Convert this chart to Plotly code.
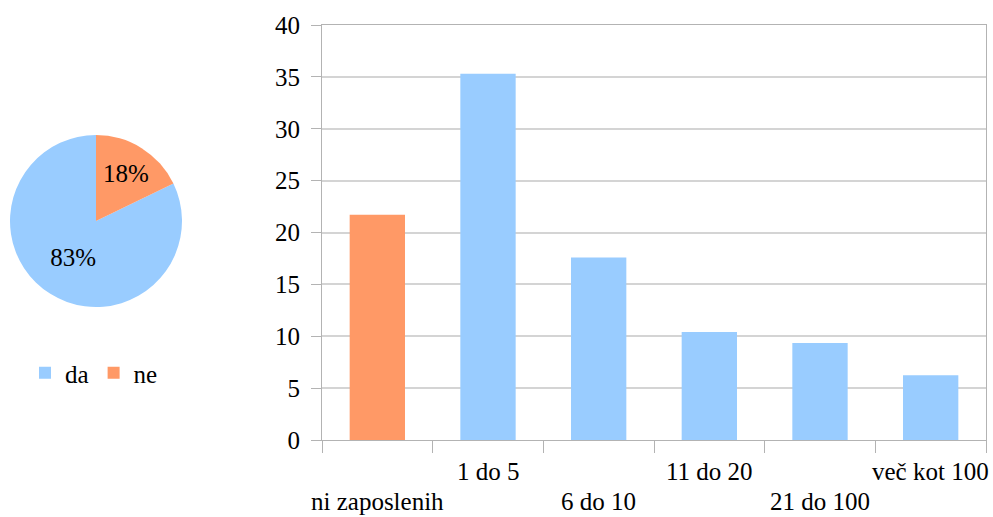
import plotly.graph_objects as go

# Pie: share of answers
pie_labels = ["da", "ne"]
pie_values = [83, 18]
pie_colors = ["#99CCFF", "#FF9966"]

# Bars: number of employees
categories = ["ni zaposlenih", "1 do 5", "6 do 10", "11 do 20", "21 do 100", "več kot 100"]
bar_values = [21.7, 35.3, 17.6, 10.4, 9.35, 6.24]
bar_colors = ["#FF9966", "#99CCFF", "#99CCFF", "#99CCFF", "#99CCFF", "#99CCFF"]
y_ticks = [0, 5, 10, 15, 20, 25, 30, 35, 40]

W, H = 993, 517
FONT = "Liberation Serif"
AXIS = "#b3b3b3"
GRID = "#d4d4d4"


def px_x(p):
    return p / W


def px_y(p):
    return 1 - p / H


# start "da" so that "ne" ends up right of 12 o'clock
start_angle = 360 * pie_values[1] / sum(pie_values)

fig = go.Figure()

fig.add_trace(go.Pie(
    labels=pie_labels,
    values=pie_values,
    marker=dict(colors=pie_colors, line=dict(width=0)),
    sort=False,
    direction="clockwise",
    rotation=start_angle,
    texttemplate="%{value}%",
    textposition="inside",
    insidetextorientation="horizontal",
    textfont=dict(family=FONT, size=25, color="black"),
    domain=dict(x=[px_x(10), px_x(182)], y=[px_y(307), px_y(135)]),
    hoverinfo="label+percent",
))

fig.add_trace(go.Bar(
    x=categories,
    y=bar_values,
    marker=dict(color=bar_colors, line=dict(width=0)),
    showlegend=False,
    xaxis="x",
    yaxis="y",
))

# Category names on two alternating rows below the axis
annotations = []
for i, name in enumerate(categories):
    row_y = 30 / H if i % 2 == 1 else 0
    annotations.append(dict(
        x=name, xref="x", y=row_y, yref="paper",
        text=name, showarrow=False, xanchor="center", yanchor="bottom",
        font=dict(family=FONT, size=25, color="black"),
    ))

fig.update_layout(
    template="none",
    width=W, height=H,
    margin=dict(l=0, r=0, t=0, b=0, autoexpand=False),
    paper_bgcolor="white",
    plot_bgcolor="white",
    font=dict(family=FONT, size=25, color="black"),
    bargap=0.5,
    xaxis=dict(
        domain=[px_x(322), px_x(986)],
        type="category",
        range=[-0.5, len(categories) - 0.5],
        automargin=False,
        tickson="boundaries",
        ticks="outside",
        ticklen=12,
        tickcolor=AXIS,
        tickwidth=1,
        showticklabels=False,
        showgrid=False,
        showline=True,
        linecolor=AXIS,
        linewidth=1,
        mirror=True,
        anchor="y",
    ),
    yaxis=dict(
        domain=[px_y(440), px_y(25)],
        range=[0, 40],
        automargin=False,
        tickvals=y_ticks,
        ticks="outside",
        ticklen=10,
        tickcolor=AXIS,
        ticklabelstandoff=6,
        showgrid=True,
        gridcolor=GRID,
        gridwidth=1.5,
        zeroline=False,
        showline=True,
        linecolor=AXIS,
        linewidth=1,
        mirror=True,
        anchor="x",
        tickfont=dict(family=FONT, size=25, color="black"),
    ),
    legend=dict(
        orientation="h",
        x=px_x(25), xanchor="left",
        y=px_y(373), yanchor="middle",
        font=dict(family=FONT, size=25, color="black"),
        bgcolor="rgba(0,0,0,0)",
    ),
    annotations=annotations,
)

fig.write_html("out.html")
